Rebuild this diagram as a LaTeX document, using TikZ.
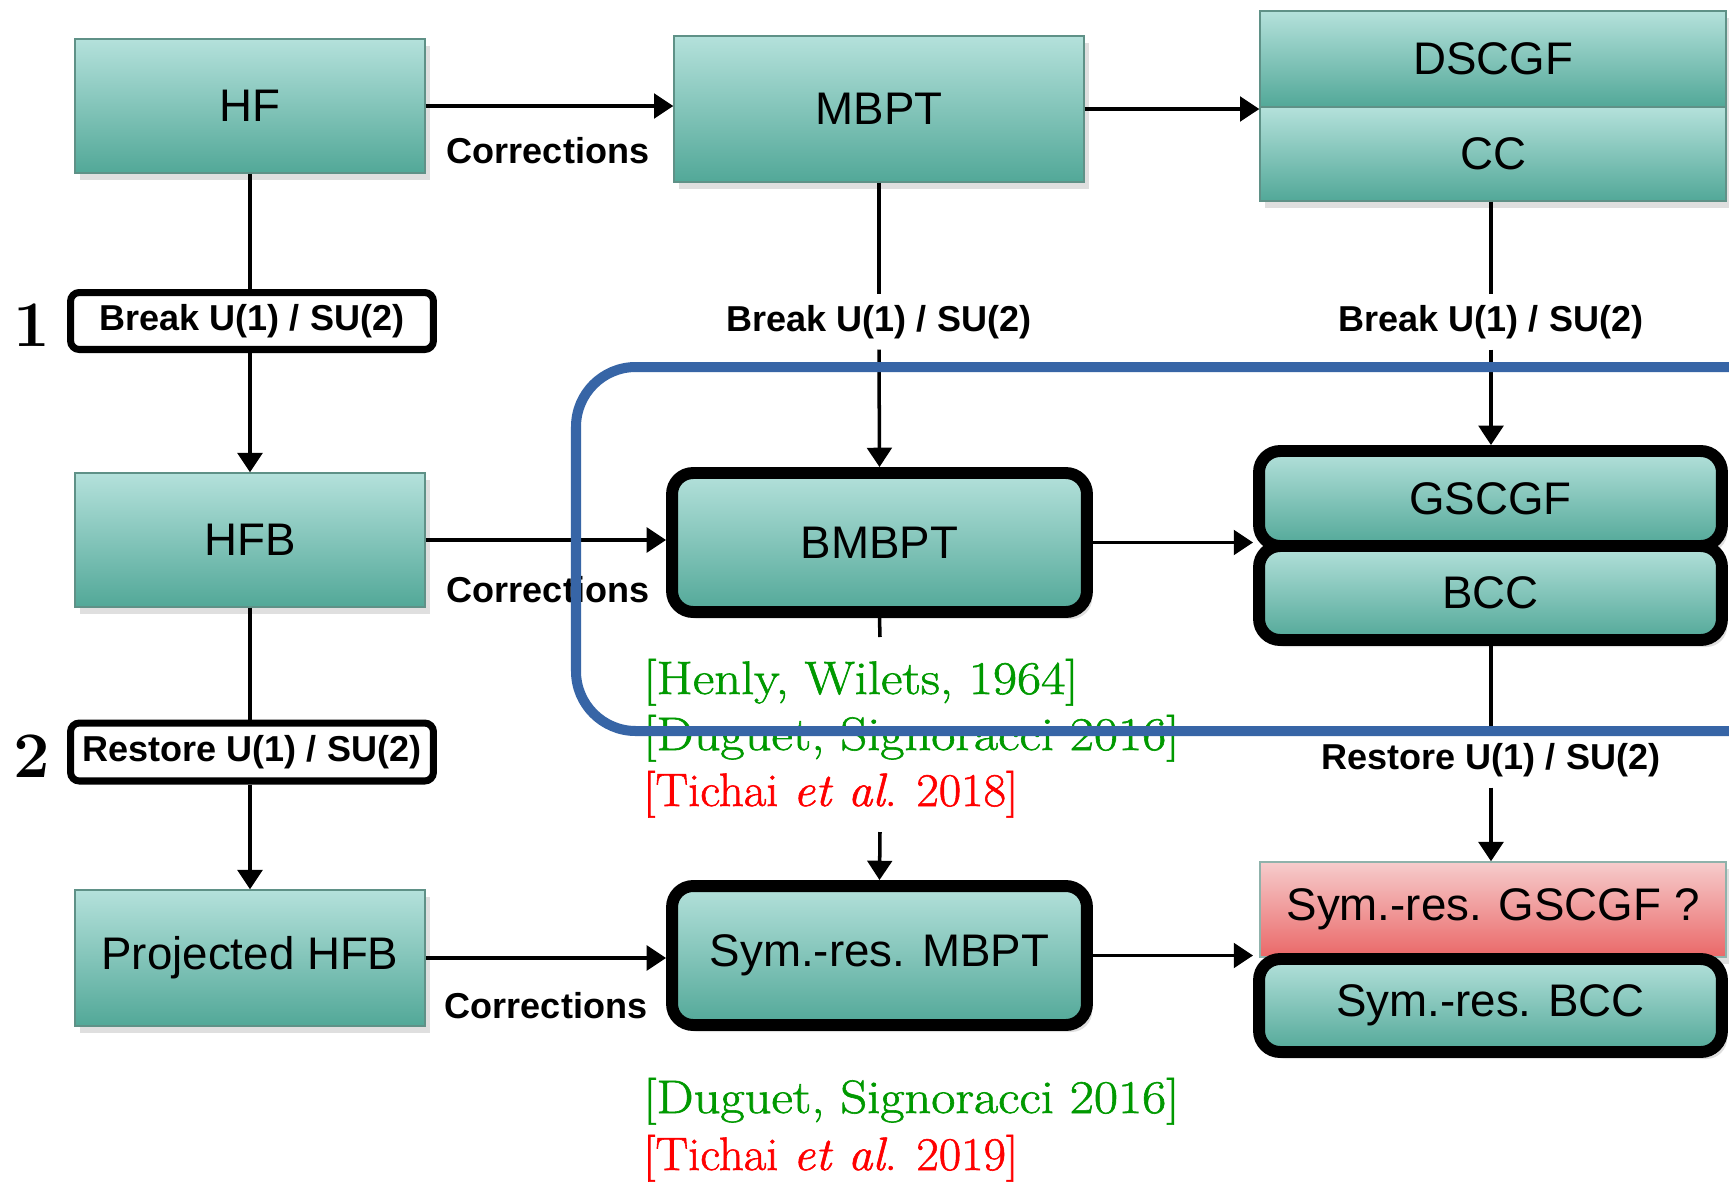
\documentclass[tikz,border=0pt]{standalone}
\usepackage{fontspec}
\newfontfamily\arialfont{Liberation Sans}
\newfontfamily\citefam{Latin Modern Roman}[FakeBold=1.2]
\usetikzlibrary{arrows.meta,shadows}
\definecolor{tealtop}{RGB}{180,225,219}
\definecolor{tealbot}{RGB}{82,168,152}
\definecolor{tealedge}{RGB}{95,145,135}
\definecolor{redtop}{RGB}{246,204,204}
\definecolor{redbot}{RGB}{234,104,104}
\definecolor{blueframe}{RGB}{55,101,166}
\definecolor{citegreen}{RGB}{0,153,0}
\definecolor{citered}{RGB}{255,0,0}
\newcommand{\boxfnt}{\arialfont\fontsize{26}{31}\selectfont}
\newcommand{\labfnt}{\arialfont\bfseries\fontsize{20.5}{24}\selectfont}
\newcommand{\citefnt}{\citefam\fontsize{26.7}{32}\selectfont}
\newcommand{\numfnt}{\bfseries\fontsize{37}{44}\selectfont}
\newcommand{\wide}[2][1.12]{\scalebox{#1}[1]{#2}}
\tikzset{
  shad/.style={drop shadow={shadow xshift=3pt,shadow yshift=-4pt,opacity=0.25}},
  tealbox/.style={rectangle, draw=tealedge, line width=0.8pt, top color=tealtop, bottom color=tealbot, font=\boxfnt, inner sep=0pt, shad},
  framebox/.style={rectangle, rounded corners=12pt, draw=black, line width=6.8pt, top color=tealtop, bottom color=tealbot, font=\boxfnt, inner sep=0pt, shad},
  redbox/.style={rectangle, draw=tealedge!70, line width=0.8pt, top color=redtop, bottom color=redbot, font=\boxfnt, inner sep=0pt, shad},
  labbox/.style={rectangle, rounded corners=5pt, draw=black, line width=4pt, fill=white, font=\labfnt, inner sep=0pt},
  lab/.style={font=\labfnt, inner xsep=2pt, inner ysep=6pt},
  citestyle/.style={font=\citefnt, anchor=base west, inner sep=0pt},
  numstyle/.style={font=\numfnt, inner sep=0pt},
  conn/.style={draw=black, line width=2pt},
  arr/.style={conn, -{Triangle[length=11pt,width=14pt]}},
}
\begin{document}
\begin{tikzpicture}[x=0.02cm,y=-0.02cm]
\useasboundingbox (0,0) rectangle (1729,1181);
\clip (0,0) rectangle (1729,1181);
\fill[white] (0,0) rectangle (1729,1181);

% boxes
\node[tealbox, minimum width=7cm, minimum height=2.68cm] (HF) at (250,106) {HF};
\node[tealbox, minimum width=8.2cm, minimum height=2.92cm] (MBPT) at (879,109) {MBPT};
\node[tealbox, minimum width=9.32cm, minimum height=1.92cm] (DSCGF) at (1493,59) {DSCGF};
\node[tealbox, minimum width=9.32cm, minimum height=1.88cm] (CC) at (1493,154) {CC};

\node[tealbox, minimum width=7cm, minimum height=2.68cm] (HFB) at (250,540) {HFB};
\node[framebox, minimum width=8.3cm, minimum height=2.78cm] (BMBPT) at (879.5,542.5) {BMBPT};
\node[framebox, minimum width=9.26cm, minimum height=1.9cm] (GSCGF) at (1490.5,498.5) {GSCGF};
\node[framebox, minimum width=9.26cm, minimum height=1.88cm] (BCC) at (1490.5,593) {BCC};

\node[tealbox, minimum width=7cm, minimum height=2.72cm] (PHFB) at (250,958) {Projected HFB};
\node[framebox, minimum width=8.3cm, minimum height=2.78cm] (SMBPT) at (879.5,955.5) {Sym.-res. MBPT};
\node[redbox, minimum width=9.32cm, minimum height=1.9cm] (SGSCGF) at (1493,909.5) {Sym.-res. GSCGF ?};
\node[framebox, minimum width=9.26cm, minimum height=1.86cm] (SBCC) at (1490.5,1005.5) {Sym.-res. BCC};

% labels
\node[labbox, minimum width=7.26cm, minimum height=1.14cm] (brk1) at (252,321) {Break U(1) / SU(2)};
\node[labbox, minimum width=7.26cm, minimum height=1.16cm] (rst1) at (252,752) {Restore U(1) / SU(2)};
\node[numstyle] (n1) at (32,325) {1};
\node[numstyle] (n2) at (32,756) {2};
\node[lab] (brk2) at (879,322) {Break U(1) / SU(2)};
\node[lab] (brk3) at (1491,322) {Break U(1) / SU(2)};
\node[lab] (rst3) at (1491,760) {Restore U(1) / SU(2)};
\node[lab] (cor1) at (548,151) {Corrections};
\node[lab] (cor2) at (548,590) {Corrections};
\node[lab] (cor3) at (546,1006) {Corrections};

% citations
\node[citestyle, text=citegreen] (c1) at (643,694) {\wide{[Henly, Wilets, 1964]}};
\node[citestyle, text=citegreen] (c2) at (643,750) {\wide{[Duguet, Signoracci 2016]}};
\node[citestyle, text=citered] (c3) at (643,806) {\wide[1.04]{[Tichai \textit{et al}. 2018]}};
\node[citestyle, text=citegreen] (c4) at (643,1113) {\wide{[Duguet, Signoracci 2016]}};
\node[citestyle, text=citered] (c5) at (643,1170) {\wide[1.04]{[Tichai \textit{et al}. 2019]}};

\coordinate (gapA) at (880,637);
\coordinate (gapB) at (880,832);

% connectors
\draw[arr] (HF.east) -- (HF.east -| MBPT.west);
\draw[arr] (MBPT.east) -- (MBPT.east -| DSCGF.west);
\draw[arr] (HFB.east) -- (HFB.east -| BMBPT.west);
\draw[arr] (BMBPT.east) -- (BMBPT.east -| GSCGF.west);
\draw[arr] (PHFB.east) -- (PHFB.east -| SMBPT.west);
\draw[arr] (SMBPT.east) -- (SMBPT.east -| SBCC.west);

\draw[conn] (HF.south) -- (HF.south |- brk1.north);
\draw[arr] (HF.south |- brk1.south) -- (HFB.north);
\draw[conn] (HFB.south) -- (HFB.south |- rst1.north);
\draw[arr] (HFB.south |- rst1.south) -- (PHFB.north);

\draw[conn] (MBPT.south) -- (brk2.north);
\draw[arr] (brk2.south) -- (BMBPT.north);
\draw[conn] (BMBPT.south) -- (gapA);
\draw[arr] (gapB) -- (SMBPT.north);

\draw[conn] (CC.south -| brk3) -- (brk3.north);
\draw[arr] (brk3.south) -- (brk3.south |- GSCGF.north);
\draw[conn] (BCC.south -| rst3) -- (rst3.north);
\draw[arr] (rst3.south) -- (rst3.south |- SGSCGF.north);

% blue frame
\draw[blueframe, line width=5.7pt, rounded corners=34pt] (576,367) rectangle (1790,731);
\end{tikzpicture}
\end{document}
